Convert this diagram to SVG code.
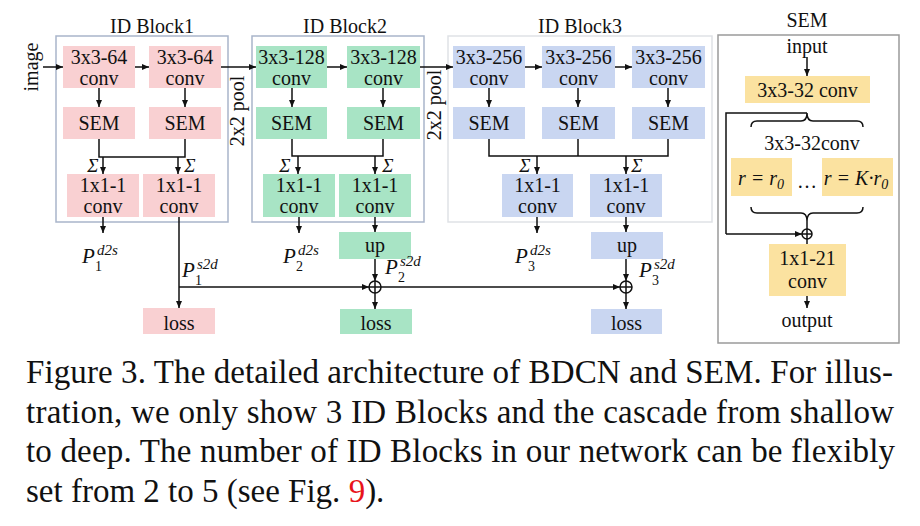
<svg xmlns="http://www.w3.org/2000/svg" width="920" height="526" viewBox="0 0 920 526" font-family="'Liberation Serif', 'DejaVu Serif', serif">
<defs>
<marker id="ah" markerWidth="8" markerHeight="8" refX="7" refY="4" orient="auto" markerUnits="userSpaceOnUse"><path d="M0,1 L7,4 L0,7 z" fill="#111"/></marker>
<style>
text{fill:#111}
.t{font-size:20px;text-anchor:middle}
.title{font-size:20px;text-anchor:middle}
.pk{fill:#f9d0d2}
.gr{fill:#a8e4c5}
.bl{fill:#c9d6f1}
.ye{fill:#fbe2a0}
.frame{fill:none;stroke:#a9b5ca;stroke-width:1.5}
.frame3{fill:none;stroke:#dfe2e6;stroke-width:1.5}
.semf{fill:none;stroke:#9a9a9a;stroke-width:1.5}
.c{fill:none;stroke:#111;stroke-width:1.5}
.a{fill:none;stroke:#111;stroke-width:1.5;marker-end:url(#ah)}
.pl{font-size:21px;font-style:italic}
.ps{font-size:15px;font-style:italic}
.pn{font-size:14px}
.sg{font-size:19px;font-style:italic;text-anchor:middle}
.it{font-size:20px;font-style:italic;text-anchor:middle}
.cap{font-size:33px}
</style>
</defs>
<rect width="920" height="526" fill="#fff"/>

<g id="block1-frame"><rect class="frame" x="56" y="36" width="172" height="186"/><text class="title" x="152" y="33">ID Block1</text></g>
<g id="block2-frame"><rect class="frame" x="252" y="36" width="172" height="186"/><text class="title" x="345" y="33">ID Block2</text></g>
<g id="block3-frame"><rect class="frame3" x="448" y="36" width="264" height="186"/><text class="title" x="580" y="33">ID Block3</text></g>
<g id="sem-frame"><rect class="semf" x="718" y="35" width="181" height="308"/><text class="title" x="807" y="27">SEM</text></g>

<g id="image-label"><text class="t" transform="translate(38,67) rotate(-90)">image</text></g>
<g id="pool1"><text class="t" transform="translate(244,111) rotate(-90)">2x2 pool</text></g>
<g id="pool2"><text class="t" transform="translate(441,105) rotate(-90)">2x2 pool</text></g>

<g id="b1-conv1"><rect class="pk" x="63" y="46" width="72" height="42"/><text class="t" x="99" y="64">3x3-64</text><text class="t" x="99" y="85">conv</text></g>
<g id="b1-conv2"><rect class="pk" x="149" y="46" width="72" height="42"/><text class="t" x="185" y="64">3x3-64</text><text class="t" x="185" y="85">conv</text></g>
<g id="b1-sem1"><rect class="pk" x="63" y="107" width="72" height="32"/><text class="t" x="99" y="130">SEM</text></g>
<g id="b1-sem2"><rect class="pk" x="149" y="107" width="72" height="32"/><text class="t" x="185" y="130">SEM</text></g>
<g id="b1-out1"><rect class="pk" x="67" y="174" width="72" height="43"/><text class="t" x="103" y="192">1x1-1</text><text class="t" x="103" y="213">conv</text></g>
<g id="b1-out2"><rect class="pk" x="143" y="174" width="72" height="43"/><text class="t" x="179" y="192">1x1-1</text><text class="t" x="179" y="213">conv</text></g>
<g id="b1-loss"><rect class="pk" x="143" y="308" width="72" height="26"/><text class="t" x="179" y="330">loss</text></g>

<g id="b2-conv1"><rect class="gr" x="256" y="46" width="71" height="42"/><text class="t" x="291.5" y="64">3x3-128</text><text class="t" x="291.5" y="85">conv</text></g>
<g id="b2-conv2"><rect class="gr" x="347" y="46" width="73" height="42"/><text class="t" x="383.5" y="64">3x3-128</text><text class="t" x="383.5" y="85">conv</text></g>
<g id="b2-sem1"><rect class="gr" x="256" y="107" width="71" height="32"/><text class="t" x="291.5" y="130">SEM</text></g>
<g id="b2-sem2"><rect class="gr" x="347" y="107" width="73" height="32"/><text class="t" x="383.5" y="130">SEM</text></g>
<g id="b2-out1"><rect class="gr" x="263" y="174" width="72" height="43"/><text class="t" x="299" y="192">1x1-1</text><text class="t" x="299" y="213">conv</text></g>
<g id="b2-out2"><rect class="gr" x="339" y="174" width="72" height="43"/><text class="t" x="375" y="192">1x1-1</text><text class="t" x="375" y="213">conv</text></g>
<g id="b2-up"><rect class="gr" x="339" y="232" width="72" height="27"/><text class="t" x="375" y="252">up</text></g>
<g id="b2-loss"><rect class="gr" x="340" y="309" width="72" height="25"/><text class="t" x="376" y="330">loss</text></g>

<g id="b3-conv1"><rect class="bl" x="453" y="46" width="72" height="42"/><text class="t" x="489" y="64">3x3-256</text><text class="t" x="489" y="85">conv</text></g>
<g id="b3-conv2"><rect class="bl" x="542" y="46" width="73" height="42"/><text class="t" x="578.5" y="64">3x3-256</text><text class="t" x="578.5" y="85">conv</text></g>
<g id="b3-conv3"><rect class="bl" x="632" y="46" width="73" height="42"/><text class="t" x="668.5" y="64">3x3-256</text><text class="t" x="668.5" y="85">conv</text></g>
<g id="b3-sem1"><rect class="bl" x="453" y="107" width="72" height="32"/><text class="t" x="489" y="130">SEM</text></g>
<g id="b3-sem2"><rect class="bl" x="542" y="107" width="73" height="32"/><text class="t" x="578.5" y="130">SEM</text></g>
<g id="b3-sem3"><rect class="bl" x="632" y="107" width="73" height="32"/><text class="t" x="668.5" y="130">SEM</text></g>
<g id="b3-out1"><rect class="bl" x="502" y="174" width="71" height="43"/><text class="t" x="537.5" y="192">1x1-1</text><text class="t" x="537.5" y="213">conv</text></g>
<g id="b3-out2"><rect class="bl" x="590" y="174" width="72" height="43"/><text class="t" x="626" y="192">1x1-1</text><text class="t" x="626" y="213">conv</text></g>
<g id="b3-up"><rect class="bl" x="591" y="232" width="72" height="27"/><text class="t" x="627" y="252">up</text></g>
<g id="b3-loss"><rect class="bl" x="591" y="309" width="71" height="25"/><text class="t" x="626.5" y="330">loss</text></g>

<g id="sem-input"><text class="t" x="807" y="53">input</text></g>
<g id="sem-conv"><rect class="ye" x="745" y="76" width="125" height="27"/><text class="t" x="807.5" y="97">3x3-32 conv</text></g>
<g id="sem-dil-label"><text class="t" x="812" y="150">3x3-32conv</text></g>
<g id="sem-r0"><rect class="ye" x="731" y="158" width="61" height="38"/><text class="it" x="761" y="185">r = r<tspan font-size="14" dy="4">0</tspan></text></g>
<g id="sem-dots"><text class="t" x="807" y="188">…</text></g>
<g id="sem-rk"><rect class="ye" x="822" y="158" width="71" height="38"/><text class="it" x="856" y="185">r = K·r<tspan font-size="14" dy="4">0</tspan></text></g>
<g id="sem-1x1"><rect class="ye" x="769" y="244" width="77" height="52"/><text class="t" x="807.5" y="265">1x1-21</text><text class="t" x="807.5" y="288">conv</text></g>
<g id="sem-output"><text class="t" x="807" y="327">output</text></g>

<g id="labels">
<text class="sg" x="93" y="172">Σ</text><text class="sg" x="190" y="172">Σ</text>
<text class="sg" x="285" y="172">Σ</text><text class="sg" x="388" y="172">Σ</text>
<text class="sg" x="525" y="172">Σ</text><text class="sg" x="637" y="172">Σ</text>
<text class="pl" x="82" y="263">P</text><text class="ps" x="97" y="255">d2s</text><text class="pn" x="95" y="271">1</text>
<text class="pl" x="283" y="263">P</text><text class="ps" x="298" y="255">d2s</text><text class="pn" x="296" y="271">2</text>
<text class="pl" x="515" y="263">P</text><text class="ps" x="530" y="255">d2s</text><text class="pn" x="528" y="271">3</text>
<text class="pl" x="182" y="277">P</text><text class="ps" x="197" y="269">s2d</text><text class="pn" x="195" y="285">1</text>
<text class="pl" x="385" y="274">P</text><text class="ps" x="400" y="266">s2d</text><text class="pn" x="398" y="282">2</text>
<text class="pl" x="639" y="277">P</text><text class="ps" x="654" y="269">s2d</text><text class="pn" x="652" y="285">3</text>
</g>

<g id="connectors">
<line class="a" x1="43" y1="67" x2="63" y2="67"/>
<line class="a" x1="135" y1="67" x2="149" y2="67"/>
<line class="a" x1="221" y1="67" x2="256" y2="67"/>
<line class="a" x1="327" y1="67" x2="347" y2="67"/>
<line class="a" x1="420" y1="67" x2="453" y2="67"/>
<line class="a" x1="525" y1="67" x2="542" y2="67"/>
<line class="a" x1="615" y1="67" x2="632" y2="67"/>
<line class="a" x1="99" y1="88" x2="99" y2="107"/>
<line class="a" x1="185" y1="88" x2="185" y2="107"/>
<line class="a" x1="292" y1="88" x2="292" y2="107"/>
<line class="a" x1="383" y1="88" x2="383" y2="107"/>
<line class="a" x1="489" y1="88" x2="489" y2="107"/>
<line class="a" x1="578" y1="88" x2="578" y2="107"/>
<line class="a" x1="668" y1="88" x2="668" y2="107"/>
<polyline class="c" points="99,139 99,157 185,157 185,139"/>
<line class="a" x1="103" y1="157" x2="103" y2="174"/>
<line class="a" x1="178" y1="157" x2="178" y2="174"/>
<polyline class="c" points="292,139 292,156 383,156 383,139"/>
<line class="a" x1="298" y1="156" x2="298" y2="174"/>
<line class="a" x1="375" y1="156" x2="375" y2="174"/>
<polyline class="c" points="489,139 489,156 668,156 668,139"/>
<line class="c" x1="578" y1="139" x2="578" y2="156"/>
<line class="a" x1="537" y1="156" x2="537" y2="174"/>
<line class="a" x1="626" y1="156" x2="626" y2="174"/>
<line class="a" x1="103" y1="217" x2="103" y2="233"/>
<line class="a" x1="299" y1="217" x2="299" y2="233"/>
<line class="a" x1="537" y1="217" x2="537" y2="233"/>
<line class="a" x1="179" y1="217" x2="179" y2="308"/>
<line class="a" x1="179" y1="287" x2="369" y2="287"/>
<line class="a" x1="375" y1="217" x2="375" y2="232"/>
<line class="a" x1="375" y1="259" x2="375" y2="281"/>
<circle class="c" cx="375" cy="287" r="6"/><line class="c" x1="369" y1="287" x2="381" y2="287"/><line class="c" x1="375" y1="281" x2="375" y2="293"/>
<line class="a" x1="375" y1="293" x2="375" y2="309"/>
<line class="a" x1="381" y1="287" x2="620" y2="287"/>
<line class="a" x1="626" y1="217" x2="626" y2="232"/>
<line class="a" x1="626" y1="259" x2="626" y2="281"/>
<circle class="c" cx="626" cy="287" r="6"/><line class="c" x1="620" y1="287" x2="632" y2="287"/><line class="c" x1="626" y1="281" x2="626" y2="293"/>
<line class="a" x1="626" y1="293" x2="626" y2="309"/>
<line class="a" x1="807" y1="57" x2="807" y2="76"/>
<path class="c" d="M751,127 Q751,121 757,121 L801,121 Q807,121 807,113 Q807,121 813,121 L857,121 Q863,121 863,127"/>
<path class="c" d="M751,207 Q751,213 757,213 L801,213 Q807,213 807,221 Q807,213 813,213 L857,213 Q863,213 863,207"/>
<polyline class="c" points="807,113 726,113 726,234"/>
<line class="a" x1="726" y1="234" x2="802" y2="234"/>
<line class="c" x1="807" y1="221" x2="807" y2="229"/>
<circle class="c" cx="807" cy="234" r="5"/><line class="c" x1="802" y1="234" x2="812" y2="234"/><line class="c" x1="807" y1="229" x2="807" y2="239"/>
<line class="c" x1="807" y1="239" x2="807" y2="244"/>
<line class="a" x1="807" y1="296" x2="807" y2="308"/>
</g>

<g id="caption">
<text class="cap" x="26" y="383" textLength="867" lengthAdjust="spacing">Figure 3. The detailed architecture of BDCN and SEM. For illus-</text>
<text class="cap" x="26" y="423" textLength="868" lengthAdjust="spacing">tration, we only show 3 ID Blocks and the cascade from shallow</text>
<text class="cap" x="26" y="462" textLength="869" lengthAdjust="spacing">to deep. The number of ID Blocks in our network can be flexibly</text>
<text class="cap" x="26" y="502">set from 2 to 5 (see Fig. <tspan fill="#e8141b">9</tspan>).</text>
</g>
</svg>
